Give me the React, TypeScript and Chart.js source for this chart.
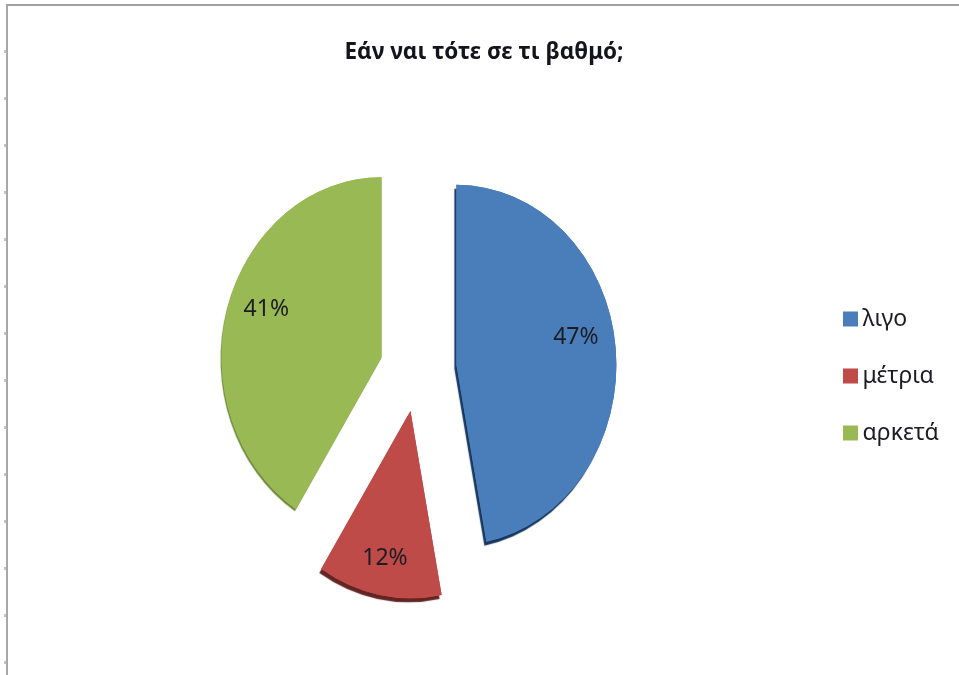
import React, { useEffect, useRef } from "react";
import { Chart, registerables } from "chart.js";

Chart.register(...registerables);

const chartTitle = "Εάν ναι τότε σε τι βαθμό;";
const categories = ["λιγο", "μέτρια", "αρκετά"];
const percentValues = [47, 12, 41];
const sliceColors = ["#4a7ebb", "#be4b48", "#98b954"];
const edgeColors = ["#17375e", "#632523", "#6f8a3a"];
const sliceShifts = [39, 38, 37.5];
const sliceScales = [1, 1.04, 1];
const labelNudgeX = [0, -3, 0];
const labelNudgeY = [-15, 15, -10];

const FONT = '"Noto Sans", sans-serif';
const TEXT = "#1c1c24";
const Y_SQUASH = 1.125;
const OUTER = 160;

const ellipsePlugin = {
  id: "ellipsePie",
  afterUpdate(chart: any) {
    const legend = chart.legend;
    const dx = 850 - 34 - legend.left;
    legend.left += dx;
    legend.right += dx;
    legend.top += 28.5;
    legend.bottom += 28.5;
    chart.titleBlock.left += 0;
    chart.titleBlock.right += 0;
  },
  beforeDatasetsDraw(chart: any) {
    const { ctx } = chart;
    const meta = chart.getDatasetMeta(0);
    const cy = meta.data[0].y;
    ctx.save();
    ctx.translate(0, cy);
    ctx.scale(1, Y_SQUASH);
    ctx.translate(0, -cy);
    meta.data.forEach((arc: any, i: number) => {
      const mid = (arc.startAngle + arc.endAngle) / 2;
      ctx.save();
      ctx.translate(Math.cos(mid) * sliceShifts[i], Math.sin(mid) * sliceShifts[i]);
      ctx.translate(arc.x, arc.y);
      ctx.scale(sliceScales[i], sliceScales[i]);
      ctx.translate(-arc.x, -arc.y);
      ctx.save();
      ctx.shadowColor = edgeColors[i];
      ctx.shadowOffsetX = i === 2 ? -1 : -2;
      ctx.shadowOffsetY = i === 2 ? 2 : 4;
      ctx.shadowBlur = 1;
      arc.draw(ctx, chart.chartArea);
      ctx.restore();
      arc.draw(ctx, chart.chartArea);
      ctx.restore();
    });
    ctx.restore();

    ctx.save();
    ctx.font = `23px ${FONT}`;
    ctx.fillStyle = TEXT;
    ctx.textAlign = "center";
    ctx.textBaseline = "middle";
    meta.data.forEach((arc: any, i: number) => {
      const mid = (arc.startAngle + arc.endAngle) / 2;
      const r = sliceShifts[i] + OUTER * 0.75;
      const x = arc.x + Math.cos(mid) * r + labelNudgeX[i];
      const y = arc.y + Math.sin(mid) * r * Y_SQUASH + labelNudgeY[i];
      ctx.fillText(`${percentValues[i]}%`, x, y);
    });
    ctx.restore();
    return false;
  },
};

export default function App() {
  const ref = useRef<HTMLCanvasElement>(null);
  useEffect(() => {
    document.body.style.margin = "0";
    const chart = new Chart(ref.current!, {
      type: "pie",
      data: {
        labels: categories,
        datasets: [
          {
            data: percentValues,
            backgroundColor: sliceColors,
            borderWidth: 0,
          },
        ],
      },
      options: {
        animation: false,
        responsive: false,
        radius: OUTER,
        layout: { padding: { top: 39, right: 0, bottom: 19, left: 9 } },
        plugins: {
          title: {
            display: true,
            text: chartTitle,
            color: "#14141c",
            font: { family: FONT, size: 22.5, weight: "bold" },
            padding: { top: 0, bottom: 16 },
          },
          legend: {
            position: "right",
            labels: {
              color: TEXT,
              font: { family: FONT, size: 23 },
              usePointStyle: true,
              pointStyle: "rect",
              boxWidth: 1,
              boxHeight: 15,
              padding: 34,
            },
          },
          tooltip: { enabled: false },
        },
      },
      plugins: [ellipsePlugin],
    } as any);
    return () => chart.destroy();
  }, []);
  return (
    <div style={{ position: "relative", width: 959, height: 675, overflow: "hidden", background: "#fff" }}>
      <div
        style={{
          position: "absolute",
          left: 6,
          top: 4,
          width: 960,
          height: 680,
          borderLeft: "2px solid #a8a8a8",
          borderTop: "2px solid #a0a0a0",
        }}
      />
      <div
        style={{
          position: "absolute",
          left: 4,
          top: 50,
          width: 2,
          height: 625,
          background: "repeating-linear-gradient(to bottom, #c4c4c4 0, #c4c4c4 3px, transparent 3px, transparent 47px)",
        }}
      />
      <canvas
        ref={ref}
        width={959}
        height={675}
        style={{ position: "absolute", left: 0, top: 0, filter: "blur(0.5px)" }}
      />
    </div>
  );
}
